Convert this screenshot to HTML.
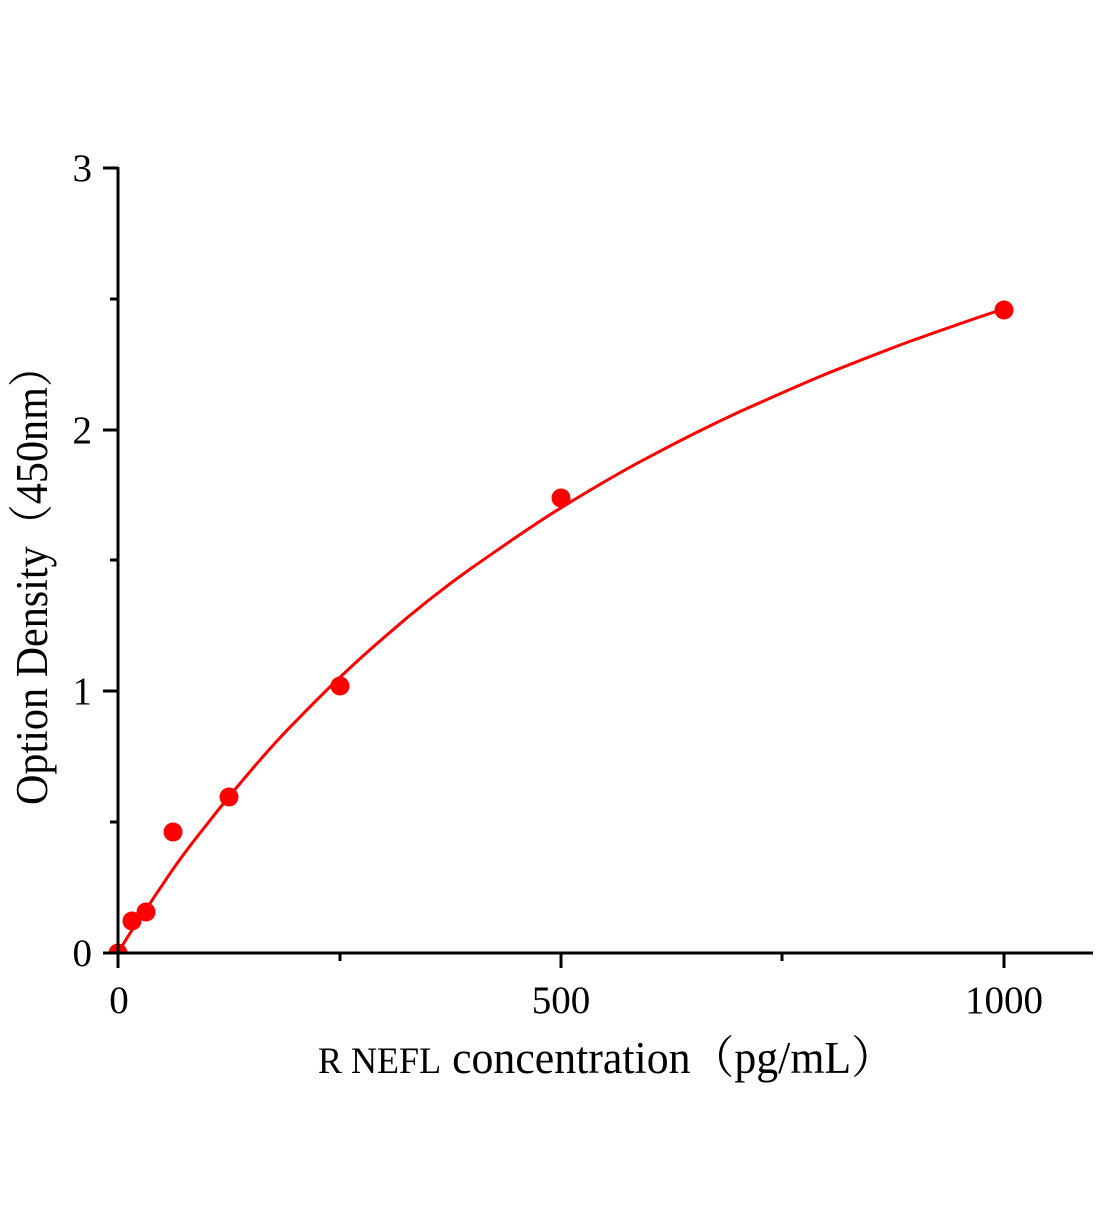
<!DOCTYPE html>
<html><head><meta charset="utf-8"><style>body{margin:0;background:#fff}</style></head><body>
<svg width="1104" height="1200" xmlns="http://www.w3.org/2000/svg" font-family="'Liberation Serif','Noto Serif CJK SC',serif">
<rect width="1104" height="1200" fill="#fff"/>
<path fill="none" stroke="#f00" stroke-width="3" d="M118,953 C124,943 129,934 135.7,924.9 C145,912 153,898 162.3,885.1 C176,864 191,844 206.6,824.8 C221,806 236,788 250.9,770.6 C265,754 280,737 295.2,721.9 C324,692 354,663 383.8,637.7 C413,612 442,589 472.4,567.4 C502,547 531,526 561,507.8 C590,490 620,472 649.6,456.7 C679,441 709,426 738.2,412.4 C768,399 797,386 826.8,373.6 C856,362 886,350 915.4,339.4 C945,329 975,318 1004,308.9"/>
<g fill="#f00">
<circle cx="118" cy="953" r="9.5"/>
<circle cx="132" cy="921" r="9.5"/>
<circle cx="146" cy="912" r="9.5"/>
<circle cx="173" cy="832" r="9.5"/>
<circle cx="229" cy="797" r="9.5"/>
<circle cx="340" cy="686" r="9.5"/>
<circle cx="561" cy="498" r="9.5"/>
<circle cx="1004" cy="310" r="9.5"/>
</g>
<rect x="105" y="954.5" width="30" height="20" fill="#fff"/>
<g stroke="#000" stroke-width="3" fill="none">
<line x1="118" y1="167" x2="118" y2="968"/>
<line x1="103" y1="953" x2="1093" y2="953"/>
<line x1="103" y1="168" x2="118" y2="168"/>
<line x1="103" y1="430" x2="118" y2="430"/>
<line x1="103" y1="691" x2="118" y2="691"/>
<line x1="110" y1="299" x2="118" y2="299"/>
<line x1="110" y1="560" x2="118" y2="560"/>
<line x1="110" y1="822" x2="118" y2="822"/>
<line x1="561" y1="953" x2="561" y2="968"/>
<line x1="1004" y1="953" x2="1004" y2="968"/>
<line x1="340" y1="953" x2="340" y2="961"/>
<line x1="782" y1="953" x2="782" y2="961"/>
</g>
<g font-size="39" fill="#000" text-anchor="end">
<text x="92" y="181">3</text>
<text x="92" y="443">2</text>
<text x="92" y="704">1</text>
<text x="92" y="966">0</text>
</g>
<g font-size="39" fill="#000" text-anchor="middle">
<text x="119" y="1013">0</text>
<text x="561" y="1013">500</text>
<text x="1004" y="1013">1000</text>
</g>
<text x="318" y="1073" font-size="45" fill="#000" textLength="577" lengthAdjust="spacingAndGlyphs"><tspan font-size="37">R NEFL</tspan> concentration（pg/mL）</text>
<text transform="translate(47,575) rotate(-90)" text-anchor="middle" font-size="45" fill="#000" textLength="460" lengthAdjust="spacingAndGlyphs">Option Density（450nm）</text>
</svg>
</body></html>
